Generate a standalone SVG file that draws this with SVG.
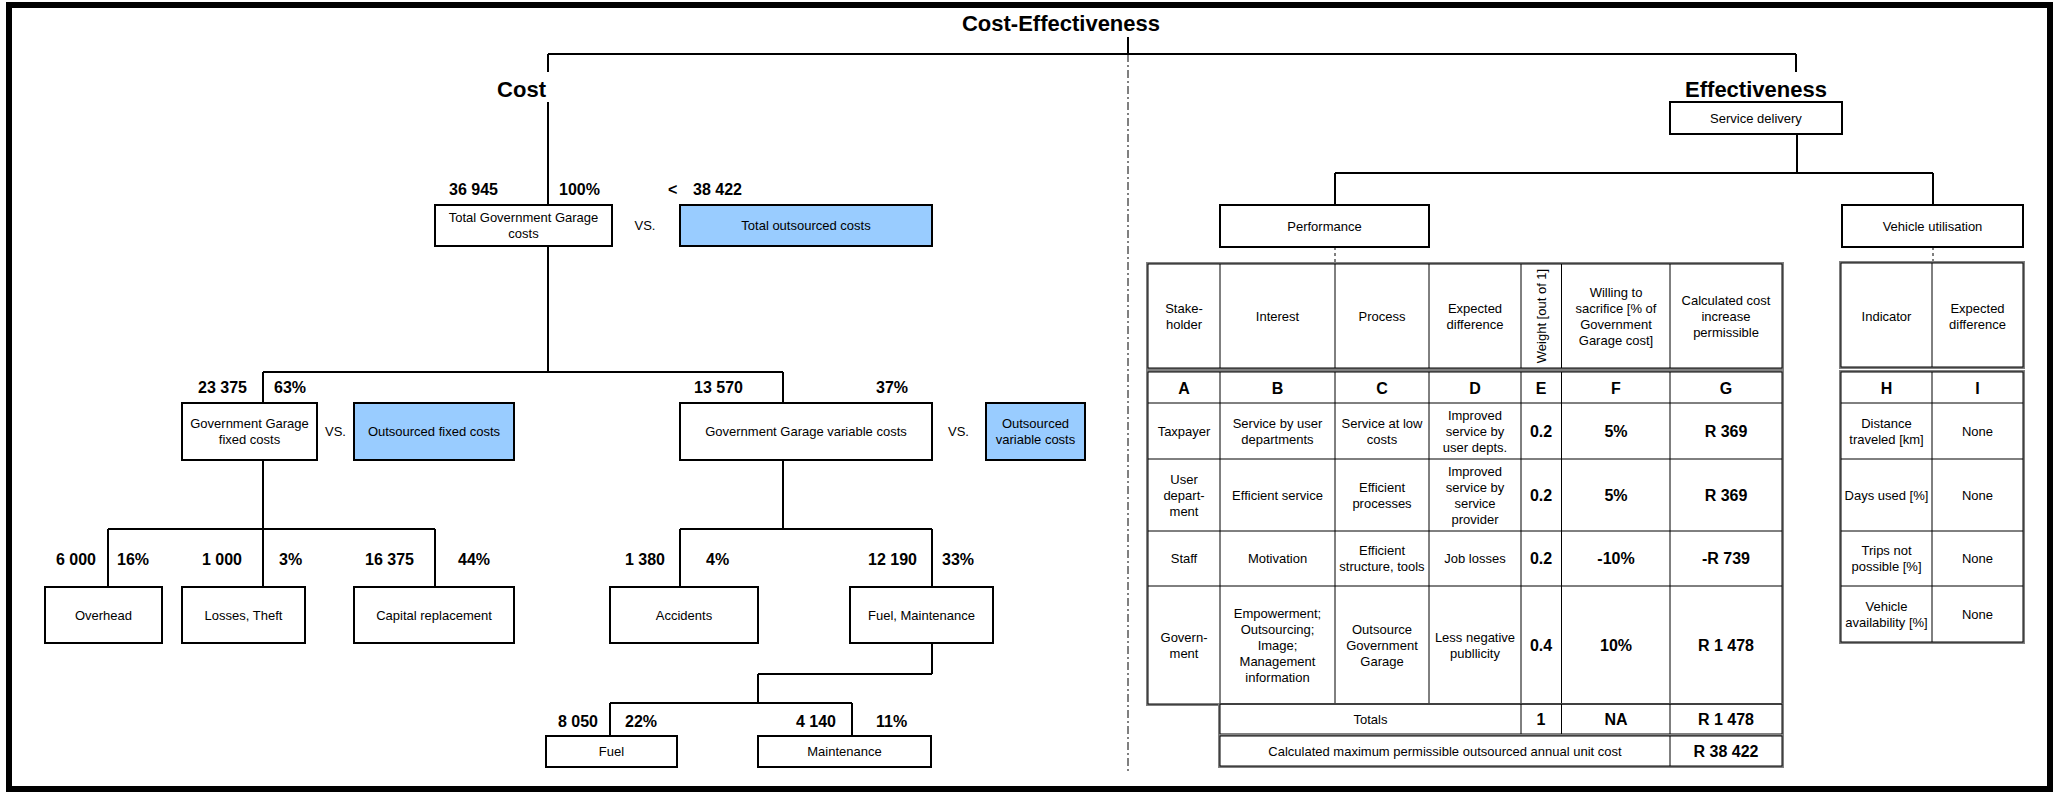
<svg xmlns="http://www.w3.org/2000/svg" width="2053" height="793" viewBox="0 0 2053 793">
<style>
text{font-family:"Liberation Sans",Arial,sans-serif;fill:#000}
.t{font-size:13px;text-anchor:middle}
.n{font-size:16px;font-weight:bold}
.nc{font-size:16px;font-weight:bold;text-anchor:middle}
.e{text-anchor:end}
.h{font-size:22px;font-weight:bold}
.box{fill:#fff;stroke:#000;stroke-width:2}
.blue{fill:#99ccff;stroke:#000;stroke-width:2}
.ln{stroke:#000;stroke-width:2;fill:none}
.grid{stroke:#000;stroke-width:1;fill:none}
.tgray{fill:#fff;stroke:#808080;stroke-width:2}
.tblk{fill:none;stroke:#000;stroke-width:1}
</style>
<rect x="0" y="0" width="2053" height="793" fill="#fff"/>
<rect id="frame" x="9" y="5" width="2041" height="784" fill="#fff" stroke="#000" stroke-width="6"/>

<g id="connectors">
<path class="ln" d="M1128 37V54M548 54H1796M548 54V72M548 102V205M1796 54V72"/>
<path d="M1128 54V772" stroke="#000" stroke-width="1" stroke-dasharray="8,3,2,3" fill="none"/>
<path class="ln" d="M548 246V372M263 372H783M263 372V403M783 372V403"/>
<path class="ln" d="M263 460V529M108 529H435M108 529V587M263 529V587M435 529V587"/>
<path class="ln" d="M783 460V529M680 529H932M680 529V587M932 529V587"/>
<path class="ln" d="M932 643V674M758 674H932M758 674V703M610 703H852M610 703V736M852 703V736"/>
<path class="ln" d="M1797 134V173M1335 173H1933M1335 173V205M1933 173V205"/>
<path d="M1335 247V264M1933 247V263" stroke="#000" stroke-width="1" stroke-dasharray="3,3" fill="none"/>
</g>

<g id="title"><text class="h" x="1061" y="31" text-anchor="middle">Cost-Effectiveness</text></g>
<g id="cost-label"><text class="h e" x="546" y="97">Cost</text></g>
<g id="effectiveness-label"><text class="h" x="1756" y="97" text-anchor="middle">Effectiveness</text></g>

<g id="total-gg">
<rect class="box" x="435" y="205" width="177" height="41"/>
<text class="t" x="523.5" y="222">Total Government Garage</text>
<text class="t" x="523.5" y="238">costs</text>
<text class="n e" x="498" y="195">36 945</text>
<text class="n" x="559" y="195">100%</text>
</g>
<g id="vs1"><text class="t" x="645" y="230">VS.</text></g>
<g id="total-out">
<rect class="blue" x="680" y="205" width="252" height="41"/>
<text class="t" x="806" y="230">Total outsourced costs</text>
<text class="n" x="668" y="195">&lt;</text>
<text class="n" x="693" y="195">38 422</text>
</g>

<g id="gg-fixed">
<rect class="box" x="182" y="403" width="135" height="57"/>
<text class="t" x="249.5" y="428">Government Garage</text>
<text class="t" x="249.5" y="444">fixed costs</text>
<text class="n e" x="247" y="393">23 375</text>
<text class="n" x="274" y="393">63%</text>
</g>
<g id="vs2"><text class="t" x="335.5" y="436">VS.</text></g>
<g id="out-fixed">
<rect class="blue" x="354" y="403" width="160" height="57"/>
<text class="t" x="434" y="436">Outsourced fixed costs</text>
</g>
<g id="gg-variable">
<rect class="box" x="680" y="403" width="252" height="57"/>
<text class="t" x="806" y="436">Government Garage variable costs</text>
<text class="n" x="694" y="393">13 570</text>
<text class="n" x="876" y="393">37%</text>
</g>
<g id="vs3"><text class="t" x="958.5" y="436">VS.</text></g>
<g id="out-variable">
<rect class="blue" x="986" y="403" width="99" height="57"/>
<text class="t" x="1035.5" y="428">Outsourced</text>
<text class="t" x="1035.5" y="444">variable costs</text>
</g>

<g id="overhead">
<rect class="box" x="45" y="587" width="117" height="56"/>
<text class="t" x="103.5" y="619.5">Overhead</text>
<text class="n e" x="96" y="565">6 000</text>
<text class="n" x="117" y="565">16%</text>
</g>
<g id="losses">
<rect class="box" x="182" y="587" width="123" height="56"/>
<text class="t" x="243.5" y="619.5">Losses, Theft</text>
<text class="n e" x="242" y="565">1 000</text>
<text class="n" x="279" y="565">3%</text>
</g>
<g id="capital">
<rect class="box" x="354" y="587" width="160" height="56"/>
<text class="t" x="434" y="619.5">Capital replacement</text>
<text class="n e" x="414" y="565">16 375</text>
<text class="n" x="458" y="565">44%</text>
</g>
<g id="accidents">
<rect class="box" x="610" y="587" width="148" height="56"/>
<text class="t" x="684" y="619.5">Accidents</text>
<text class="n e" x="665" y="565">1 380</text>
<text class="n" x="706" y="565">4%</text>
</g>
<g id="fuel-maint">
<rect class="box" x="850" y="587" width="143" height="56"/>
<text class="t" x="921.5" y="619.5">Fuel, Maintenance</text>
<text class="n e" x="917" y="565">12 190</text>
<text class="n" x="942" y="565">33%</text>
</g>
<g id="fuel">
<rect class="box" x="546" y="736" width="131" height="31"/>
<text class="t" x="611.5" y="756">Fuel</text>
<text class="n e" x="598" y="727">8 050</text>
<text class="n" x="625" y="727">22%</text>
</g>
<g id="maintenance">
<rect class="box" x="758" y="736" width="173" height="31"/>
<text class="t" x="844.5" y="756">Maintenance</text>
<text class="n e" x="836" y="727">4 140</text>
<text class="n" x="876" y="727">11%</text>
</g>

<g id="service-delivery">
<rect class="box" x="1670" y="102" width="172" height="32"/>
<text class="t" x="1756" y="123">Service delivery</text>
</g>
<g id="performance">
<rect class="box" x="1220" y="205" width="209" height="42"/>
<text class="t" x="1324.5" y="230.5">Performance</text>
</g>
<g id="vehicle-util">
<rect class="box" x="1842" y="205" width="181" height="42"/>
<text class="t" x="1932.5" y="230.5">Vehicle utilisation</text>
</g>

<g id="performance-table">
<rect class="tgray" x="1147" y="263" width="636" height="106"/>
<rect class="tblk" x="1148" y="264" width="634" height="104"/>
<path class="grid" d="M1220 264V368M1335 264V368M1429 264V368M1521 264V368M1561.5 264V368M1670 264V368"/>
<rect class="tgray" x="1147" y="371" width="636" height="334"/>
<rect class="tblk" x="1148" y="372" width="634" height="332"/>
<path class="grid" d="M1220 372V704M1335 372V704M1429 372V704M1521 372V704M1561.5 372V704M1670 372V704M1148 403H1782M1148 459H1782M1148 531H1782M1148 586H1782"/>
<rect class="tgray" x="1219" y="704" width="564" height="31"/>
<rect class="tblk" x="1220" y="704" width="562" height="30"/>
<path class="grid" d="M1521 704V734M1561.5 704V734M1670 704V734"/>
<rect class="tgray" x="1219" y="735" width="564" height="32"/>
<rect class="tblk" x="1220" y="736" width="562" height="30"/>
<path class="grid" d="M1670 736V766"/>

<text class="t" x="1184" y="312.5">Stake-</text>
<text class="t" x="1184" y="328.5">holder</text>
<text class="t" x="1277.5" y="320.5">Interest</text>
<text class="t" x="1382" y="320.5">Process</text>
<text class="t" x="1475" y="312.5">Expected</text>
<text class="t" x="1475" y="328.5">difference</text>
<text class="t" transform="translate(1545.5,316) rotate(-90)" x="0" y="0">Weight [out of 1]</text>
<text class="t" x="1616" y="296.5">Willing to</text>
<text class="t" x="1616" y="312.5">sacrifice [% of</text>
<text class="t" x="1616" y="328.5">Government</text>
<text class="t" x="1616" y="344.5">Garage cost]</text>
<text class="t" x="1726" y="304.5">Calculated cost</text>
<text class="t" x="1726" y="320.5">increase</text>
<text class="t" x="1726" y="336.5">permissible</text>

<text class="nc" x="1184" y="393.5">A</text>
<text class="nc" x="1277.5" y="393.5">B</text>
<text class="nc" x="1382" y="393.5">C</text>
<text class="nc" x="1475" y="393.5">D</text>
<text class="nc" x="1541" y="393.5">E</text>
<text class="nc" x="1616" y="393.5">F</text>
<text class="nc" x="1726" y="393.5">G</text>

<text class="t" x="1184" y="435.5">Taxpayer</text>
<text class="t" x="1277.5" y="427.5">Service by user</text>
<text class="t" x="1277.5" y="443.5">departments</text>
<text class="t" x="1382" y="427.5">Service at low</text>
<text class="t" x="1382" y="443.5">costs</text>
<text class="t" x="1475" y="419.5">Improved</text>
<text class="t" x="1475" y="435.5">service by</text>
<text class="t" x="1475" y="451.5">user depts.</text>
<text class="nc" x="1541" y="436.5">0.2</text>
<text class="nc" x="1616" y="436.5">5%</text>
<text class="nc" x="1726" y="436.5">R 369</text>

<text class="t" x="1184" y="483.5">User</text>
<text class="t" x="1184" y="499.5">depart-</text>
<text class="t" x="1184" y="515.5">ment</text>
<text class="t" x="1277.5" y="499.5">Efficient service</text>
<text class="t" x="1382" y="491.5">Efficient</text>
<text class="t" x="1382" y="507.5">processes</text>
<text class="t" x="1475" y="475.5">Improved</text>
<text class="t" x="1475" y="491.5">service by</text>
<text class="t" x="1475" y="507.5">service</text>
<text class="t" x="1475" y="523.5">provider</text>
<text class="nc" x="1541" y="500.5">0.2</text>
<text class="nc" x="1616" y="500.5">5%</text>
<text class="nc" x="1726" y="500.5">R 369</text>

<text class="t" x="1184" y="563">Staff</text>
<text class="t" x="1277.5" y="563">Motivation</text>
<text class="t" x="1382" y="555">Efficient</text>
<text class="t" x="1382" y="571">structure, tools</text>
<text class="t" x="1475" y="563">Job losses</text>
<text class="nc" x="1541" y="564">0.2</text>
<text class="nc" x="1616" y="564">-10%</text>
<text class="nc" x="1726" y="564">-R 739</text>

<text class="t" x="1184" y="641.5">Govern-</text>
<text class="t" x="1184" y="657.5">ment</text>
<text class="t" x="1277.5" y="617.5">Empowerment;</text>
<text class="t" x="1277.5" y="633.5">Outsourcing;</text>
<text class="t" x="1277.5" y="649.5">Image;</text>
<text class="t" x="1277.5" y="665.5">Management</text>
<text class="t" x="1277.5" y="681.5">information</text>
<text class="t" x="1382" y="633.5">Outsource</text>
<text class="t" x="1382" y="649.5">Government</text>
<text class="t" x="1382" y="665.5">Garage</text>
<text class="t" x="1475" y="641.5">Less negative</text>
<text class="t" x="1475" y="657.5">publlicity</text>
<text class="nc" x="1541" y="650.5">0.4</text>
<text class="nc" x="1616" y="650.5">10%</text>
<text class="nc" x="1726" y="650.5">R 1 478</text>

<text class="t" x="1370.5" y="723.5">Totals</text>
<text class="nc" x="1541" y="724.5">1</text>
<text class="nc" x="1616" y="724.5">NA</text>
<text class="nc" x="1726" y="724.5">R 1 478</text>
<text class="t" x="1445" y="755.5">Calculated maximum permissible outsourced annual unit cost</text>
<text class="nc" x="1726" y="756.5">R 38 422</text>
</g>

<g id="vehicle-table">
<rect class="tgray" x="1840" y="262" width="184" height="106"/>
<rect class="tblk" x="1841" y="263" width="182" height="104"/>
<path class="grid" d="M1932 263V367"/>
<rect class="tgray" x="1840" y="371" width="184" height="272"/>
<rect class="tblk" x="1841" y="372" width="182" height="270"/>
<path class="grid" d="M1932 372V642M1841 403H2023M1841 459H2023M1841 531H2023M1841 586H2023"/>
<text class="t" x="1886.5" y="320.5">Indicator</text>
<text class="t" x="1977.5" y="312.5">Expected</text>
<text class="t" x="1977.5" y="328.5">difference</text>
<text class="nc" x="1886.5" y="393.5">H</text>
<text class="nc" x="1977.5" y="393.5">I</text>
<text class="t" x="1886.5" y="427.5">Distance</text>
<text class="t" x="1886.5" y="443.5">traveled [km]</text>
<text class="t" x="1977.5" y="435.5">None</text>
<text class="t" x="1886.5" y="499.5">Days used [%]</text>
<text class="t" x="1977.5" y="499.5">None</text>
<text class="t" x="1886.5" y="555">Trips not</text>
<text class="t" x="1886.5" y="571">possible [%]</text>
<text class="t" x="1977.5" y="563">None</text>
<text class="t" x="1886.5" y="610.5">Vehicle</text>
<text class="t" x="1886.5" y="626.5">availability [%]</text>
<text class="t" x="1977.5" y="618.5">None</text>
</g>
</svg>
